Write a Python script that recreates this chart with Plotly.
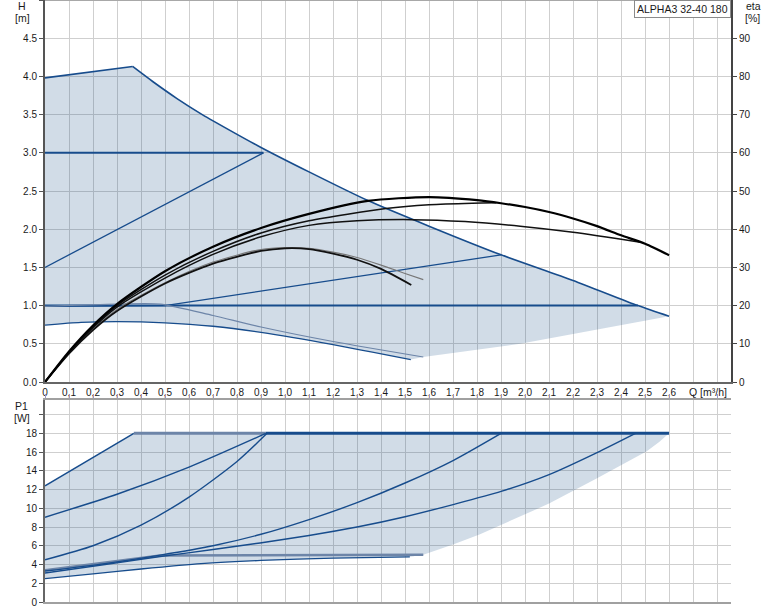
import plotly.graph_objects as go

# ---------------- data: Q-H chart ----------------
q_max = [0, 0.365, 0.45, 0.55, 0.65, 0.75, 0.9, 1.1, 1.345, 1.6, 1.9, 2.2, 2.47, 2.6]
h_max = [3.98, 4.13, 3.93, 3.71, 3.51, 3.33, 3.07, 2.75, 2.375, 2.04, 1.665, 1.33, 1.0, 0.86]

q_min = [0, 0.15, 0.3, 0.5, 0.7, 0.9, 1.2, 1.524]
h_min = [0.745, 0.78, 0.79, 0.775, 0.73, 0.65, 0.49, 0.293]

q_edge = [1.576, 1.98, 2.3, 2.6]
h_edge = [0.327, 0.50, 0.686, 0.86]

q_cp3 = [0, 0.91]
h_cp3 = [3.0, 3.0]
q_pp3 = [0, 0.91]
h_pp3 = [1.5, 3.0]
q_cp1 = [0, 2.47]
h_cp1 = [1.0, 1.0]
q_pp1 = [0, 0.5, 1.9]
h_pp1 = [0.99, 1.0, 1.665]
q_low1 = [0, 0.3, 0.48, 0.7, 0.9, 1.2, 1.576]
h_low1 = [0.99, 1.02, 1.02, 0.87, 0.72, 0.53, 0.327]

# efficiency curves (eta, %)
q_eta_a = [0, 0.1, 0.2, 0.3, 0.5, 0.7, 0.9, 1.1, 1.345, 1.6, 1.8, 1.9, 2.0, 2.1, 2.2, 2.3, 2.4, 2.5, 2.6]
eta_a = [0, 8.0, 14.8, 20.4, 29.0, 35.4, 40.3, 44.0, 47.4, 48.4, 47.6, 46.8, 45.8, 44.5, 42.8, 40.8, 38.4, 36.2, 33.2]
q_eta_b = [0, 0.1, 0.2, 0.3, 0.5, 0.7, 0.9, 1.1, 1.42, 1.6, 1.78, 1.88]
eta_b = [0, 7.8, 14.4, 20.0, 28.0, 34.2, 39.0, 42.2, 45.4, 46.4, 46.8, 46.9]
q_eta_c = [0, 0.1, 0.2, 0.3, 0.5, 0.7, 0.9, 1.1, 1.3, 1.53, 1.75, 1.98, 2.2, 2.48]
eta_c = [0, 7.7, 14.2, 19.6, 27.2, 33.4, 38.0, 41.0, 42.2, 42.5, 42.0, 40.8, 39.2, 36.6]
q_eta_d = [0, 0.1, 0.2, 0.3, 0.5, 0.7, 0.9, 1.0, 1.1, 1.2, 1.3, 1.4, 1.526]
eta_d = [0, 7.4, 13.6, 18.6, 25.8, 31.0, 34.3, 35.0, 34.8, 33.6, 32.0, 29.6, 25.4]
q_eta_e = [0, 0.1, 0.2, 0.3, 0.5, 0.7, 0.9, 1.0, 1.1, 1.2, 1.3, 1.4, 1.5, 1.576]
eta_e = [0, 7.5, 13.8, 19.0, 26.0, 31.4, 34.7, 35.2, 35.0, 34.0, 32.6, 30.6, 28.4, 26.8]

# ---------------- data: Q-P1 chart ----------------
q_pmax = [0, 0.37, 2.6]
p_pmax = [12.4, 18, 18]
q_pedge = [2.6, 2.56, 2.507, 2.3, 2.1, 1.95, 1.81, 1.7, 1.576, 1.52]
p_pedge = [18, 17.1, 16.1, 13.2, 10.5, 8.75, 7.2, 6.15, 5.05, 4.82]
q_pmin = [0, 0.2, 0.4, 0.65, 0.9, 1.2, 1.52]
p_pmin = [2.5, 3.0, 3.52, 4.1, 4.44, 4.68, 4.82]

q_p_a = [0, 0.3, 0.6, 0.92]
p_p_a = [9.05, 11.5, 14.4, 18]
q_p_b = [0, 0.2, 0.4, 0.6, 0.8, 0.925]
p_p_b = [4.5, 6.0, 8.2, 11.2, 15.0, 18]
q_p_c = [0, 0.25, 0.48, 0.7, 0.896, 1.1, 1.3, 1.5, 1.7, 1.9]
p_p_c = [3.3, 4.1, 5.0, 6.0, 7.2, 8.8, 10.6, 12.7, 15.1, 18]
q_p_d = [0, 0.25, 0.48, 0.7, 0.896, 1.1, 1.3, 1.5, 1.7, 1.9, 2.1, 2.3, 2.46]
p_p_d = [3.1, 4.0, 4.85, 5.6, 6.3, 7.1, 8.0, 9.1, 10.4, 11.8, 13.6, 15.95, 18]
q_p_light = [0, 0.48, 1.576]
p_p_light = [3.4, 4.97, 5.05]
q_p18_light = [0.37, 0.92]
q_p18_dark = [0.92, 2.6]
p_p18 = [18, 18]

# tick labels
x_tickvals = [round(i * 0.1, 1) for i in range(29)]
x_ticktext = ["0"] + [f"{v:.1f}".replace(".", ",") for v in x_tickvals[1:27]] + ["", ""]
h_tickvals = [0, 0.5, 1, 1.5, 2, 2.5, 3, 3.5, 4, 4.5, 5]
h_ticktext = ["0.0", "0.5", "1.0", "1.5", "2.0", "2.5", "3.0", "3.5", "4.0", "4.5", ""]
eta_tickvals = [0, 10, 20, 30, 40, 50, 60, 70, 80, 90]
p_tickvals = [0, 2, 4, 6, 8, 10, 12, 14, 16, 18, 20]
p_ticktext = ["0", "2", "4", "6", "8", "10", "12", "14", "16", "18", ""]

BLUE = "#174c8c"
LIGHTBLUE = "#6d85a8"
FILL = "rgba(25,80,135,0.2)"
GRID = "#cfcfcf"
FONT = "Arial, Liberation Sans, sans-serif"

fig = go.Figure()

# ---- top chart fill
poly_q = q_max + q_edge[::-1] + q_min[::-1]
poly_h = h_max + h_edge[::-1] + h_min[::-1]
fig.add_trace(go.Scatter(x=poly_q, y=poly_h, fill="toself", fillcolor=FILL,
                         line=dict(width=0), mode="lines", xaxis="x", yaxis="y",
                         hoverinfo="skip"))

def add_line(x, y, color, width, xa="x", ya="y", shape="linear"):
    line = dict(color=color, width=width, shape=shape)
    if shape == "spline":
        line["smoothing"] = 0.7
    fig.add_trace(go.Scatter(x=x, y=y, mode="lines", line=line,
                             xaxis=xa, yaxis=ya, hoverinfo="skip"))

add_line(q_max[:2], h_max[:2], BLUE, 1.6)
add_line(q_max[1:], h_max[1:], BLUE, 1.6, shape="spline")
add_line(q_cp3, h_cp3, BLUE, 2)
add_line(q_pp3, h_pp3, BLUE, 1.3)
add_line(q_cp1, h_cp1, BLUE, 2)
add_line(q_pp1, h_pp1, BLUE, 1.3)
add_line(q_low1, h_low1, LIGHTBLUE, 1.2, shape="spline")
add_line(q_min, h_min, BLUE, 1.3, shape="spline")

add_line(q_eta_e, eta_e, "#777777", 1.1, ya="y2", shape="spline")
add_line(q_eta_d, eta_d, "#111111", 1.8, ya="y2", shape="spline")
add_line(q_eta_c, eta_c, "#111111", 1.5, ya="y2", shape="spline")
add_line(q_eta_b, eta_b, "#111111", 1.5, ya="y2", shape="spline")
add_line(q_eta_a, eta_a, "#000000", 2.2, ya="y2", shape="spline")

# ---- bottom chart fill
ppoly_q = q_pmax + q_pedge[1:] + q_pmin[::-1]
ppoly_p = p_pmax + p_pedge[1:] + p_pmin[::-1]
fig.add_trace(go.Scatter(x=ppoly_q, y=ppoly_p, fill="toself", fillcolor=FILL,
                         line=dict(width=0), mode="lines", xaxis="x2", yaxis="y3",
                         hoverinfo="skip"))

add_line(q_pmax[:2], p_pmax[:2], BLUE, 1.5, "x2", "y3")
add_line(q_p18_light, p_p18, LIGHTBLUE, 3, "x2", "y3")
add_line(q_p18_dark, p_p18, BLUE, 3, "x2", "y3")
add_line(q_p_light, p_p_light, LIGHTBLUE, 2.5, "x2", "y3")
add_line(q_p_a, p_p_a, BLUE, 1.4, "x2", "y3", "spline")
add_line(q_p_b, p_p_b, BLUE, 1.4, "x2", "y3", "spline")
add_line(q_p_c, p_p_c, BLUE, 1.4, "x2", "y3", "spline")
add_line(q_p_d, p_p_d, BLUE, 1.4, "x2", "y3", "spline")
add_line(q_pmin, p_pmin, BLUE, 1.4, "x2", "y3", "spline")

W, H = 774, 611
ML, MR, MT, MB = 45, 43, 0, 9
PW, PH = W - ML - MR, H - MT - MB

def px(x):
    return (x - ML) / PW

def py(y):
    return (PH - (y - MT)) / PH

tickfont = dict(family=FONT, size=10, color="#1a1a1a")

fig.update_layout(
    width=W, height=H, margin=dict(l=ML, r=MR, t=MT, b=MB),
    paper_bgcolor="white", plot_bgcolor="white", showlegend=False,
    font=dict(family=FONT, size=10, color="#1a1a1a"),
    xaxis=dict(domain=[0, 1], anchor="y", range=[0, 2.858],
               tickvals=x_tickvals, ticktext=x_ticktext, tickfont=tickfont,
               showgrid=True, gridcolor=GRID, gridwidth=1, zeroline=False,
               showline=True, linecolor="#666666", linewidth=2, ticks="",
               fixedrange=True),
    yaxis=dict(domain=[py(382), 1], anchor="x", range=[0, 5],
               tickvals=h_tickvals, ticktext=h_ticktext, tickfont=tickfont,
               showgrid=True, gridcolor=GRID, gridwidth=1, zeroline=False,
               showline=True, linecolor="#555555", linewidth=2,
               ticks="outside", ticklen=4, tickcolor="#555555"),
    yaxis2=dict(overlaying="y", side="right", anchor="x", range=[0, 100],
                tickvals=eta_tickvals, tickfont=tickfont, showgrid=False,
                zeroline=False, showline=True, linecolor="#444444", linewidth=2,
                ticks="outside", ticklen=4, tickcolor="#444444"),
    xaxis2=dict(domain=[0, 1], anchor="y3", range=[0, 2.858], side="top",
                tickvals=x_tickvals, showticklabels=False,
                showgrid=True, gridcolor=GRID, gridwidth=1, zeroline=False,
                showline=True, linecolor="#a0a0a0", linewidth=2, mirror=True,
                ticks="outside", ticklen=4, tickcolor="#9a94c8"),
    yaxis3=dict(domain=[0, py(400)], anchor="x2", range=[0, 21.56],
                tickvals=p_tickvals, ticktext=p_ticktext, tickfont=tickfont,
                showgrid=True, gridcolor=GRID, gridwidth=1, zeroline=False,
                showline=True, linecolor="#666666", linewidth=2,
                ticks="outside", ticklen=4, tickcolor="#555555"),
)

# top border of the top chart
fig.add_shape(type="line", xref="paper", yref="paper", x0=0, x1=1, y0=1, y1=1,
              line=dict(color="#a8a8a8", width=2))

def label(text, x, y, **kw):
    fig.add_annotation(text=text, x=px(x), y=py(y), xref="paper", yref="paper",
                       showarrow=False, xanchor="center", yanchor="middle",
                       font=dict(family=FONT, size=10.5, color="#1a1a1a"), **kw)

label("H", 22, 6)
label("[m]", 22, 18)
label("eta", 753, 6)
label("[%]", 752, 18)
label("P1", 21, 406)
label("[W]", 22, 418)
label("Q [m³/h]", 708, 392)

fig.add_annotation(text="ALPHA3 32-40 180", x=px(731), y=py(0), xref="paper", yref="paper",
                   showarrow=False, xanchor="right", yanchor="top",
                   bgcolor="white", bordercolor="#8a8a8a", borderwidth=1, borderpad=2,
                   font=dict(family=FONT, size=10.5, color="#1a1a1a"))

fig.write_html("out.html", config={"displayModeBar": False},
               post_script="document.body.style.margin='0';")
